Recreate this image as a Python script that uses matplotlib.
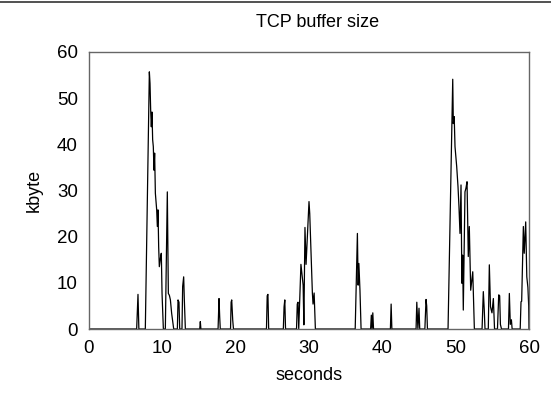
import matplotlib
matplotlib.use("Agg")
import matplotlib.pyplot as plt
from matplotlib.lines import Line2D

plt.rcParams['font.family'] = ['Liberation Sans', 'DejaVu Sans']

# time (seconds) and TCP buffer size (kbyte)
seconds = [
    0.0, 6.50, 6.68, 6.80, 7.68, 8.23, 8.32, 8.41, 8.50, 8.59, 8.68, 8.77, 8.86, 8.95,
    9.05, 9.23, 9.32, 9.41, 9.50, 9.59, 9.77, 9.86, 9.96, 10.14, 10.41, 10.68, 10.82,
    10.96, 11.10, 11.27, 11.45, 11.55, 12.05, 12.14, 12.27, 12.37, 12.68, 12.77, 12.91,
    13.00, 13.14, 15.10, 15.18, 15.26,
    17.60, 17.73, 17.82, 17.90, 19.30, 19.38, 19.46, 19.60, 19.70,
    24.20, 24.30, 24.40, 24.50, 26.50, 26.60, 26.70, 26.80, 28.30, 28.40, 28.50, 28.60,
    28.90, 29.20, 29.30, 29.45, 29.60, 30.00, 30.10, 30.23, 30.36, 30.46, 30.55, 30.70,
    30.87, 30.96, 36.30, 36.60, 36.70, 36.80, 36.95, 37.10, 38.40, 38.50, 38.60, 38.70,
    38.80, 41.10, 41.20, 41.30, 44.60, 44.70, 44.85, 45.00, 45.10, 45.80, 45.96, 46.05,
    46.15, 48.96, 49.60, 49.68, 49.80, 49.91, 50.14, 50.32, 50.45, 50.59, 50.73, 50.80,
    50.86, 50.95, 51.04, 51.27, 51.40, 51.55, 51.72, 51.86, 52.05, 52.33, 52.55,
    53.60, 53.77, 53.90, 54.00, 54.45, 54.59, 54.75, 54.95, 55.14, 55.30, 55.70, 55.87,
    56.00, 56.10, 56.25, 57.20, 57.32, 57.45, 57.60, 57.70, 58.80, 58.91, 59.00, 59.23,
    59.35, 59.55, 59.70, 59.85, 59.96, 60.0,
]
kbyte = [
    0, 0, 7.5, 0, 0, 55.7, 53.2, 47.4, 43.8, 47.0, 41.0, 39.5, 34.4, 38.1,
    29.4, 25.8, 22.2, 25.8, 17.8, 13.5, 15.7, 16.4, 7.7, 0, 0, 29.7, 7.7,
    7.3, 6.3, 3.4, 1.2, 0, 0, 6.3, 5.8, 0, 0, 9.2, 11.3,
    6.3, 0, 0, 1.6, 0,
    0, 6.6, 2.7, 0, 0, 5.8, 6.3, 1.9, 0,
    0, 7.2, 7.5, 0, 0, 4.8, 6.3, 0, 0, 5.4, 5.8, 0,
    14.0, 9.5, 0.9, 22.0, 14.0, 27.6, 25.0, 18.6, 12.0, 7.8, 5.4, 7.8,
    0, 0, 0, 20.7, 9.5, 14.2, 8.4, 0, 0, 3.0, 0, 3.5,
    0, 0, 5.4, 0, 0, 5.8, 0, 4.5, 0, 0, 6.4, 5.0,
    0, 0, 54.1, 44.5, 46.0, 39.5, 35.2, 30.8, 26.5, 20.7, 31.2, 18.0,
    9.9, 16.0, 4.1, 29.7, 30.5, 31.9, 15.7, 22.2, 8.4, 12.4, 0,
    0, 8.1, 4.1, 0, 0, 13.9, 4.8, 3.5, 6.6, 0, 0, 7.4,
    7.2, 1.0, 0, 0, 7.7, 1.0, 2.0, 0, 0, 5.9, 6.0, 22.2,
    16.4, 23.2, 11.3, 9.0, 5.0, 0,
]

fig = plt.figure(figsize=(5.51, 4.01), dpi=100)
ax = fig.add_axes([89 / 551, 72 / 401, 440 / 551, 277 / 401])
ax.plot(seconds, kbyte, color='black', linewidth=0.9)

ax.set_xlim(0, 60)
ax.set_ylim(0, 60)
ax.set_xticks([0, 10, 20, 30, 40, 50, 60])
ax.set_yticks([0, 10, 20, 30, 40, 50, 60])
ax.tick_params(length=0, labelsize=13.5, pad=8)
for s in ax.spines.values():
    s.set_color('#666666')
    s.set_linewidth(1.0)

ax.set_title('TCP buffer size', fontsize=13, pad=18, x=0.52)
ax.set_xlabel('seconds', fontsize=13, labelpad=7)
ax.set_ylabel('kbyte', fontsize=13, labelpad=10)

fig.add_artist(Line2D([0, 1], [1 - 1.5 / 401, 1 - 1.5 / 401], transform=fig.transFigure,
                      color='#333333', linewidth=1.2))

fig.savefig('out.png', dpi=100)
